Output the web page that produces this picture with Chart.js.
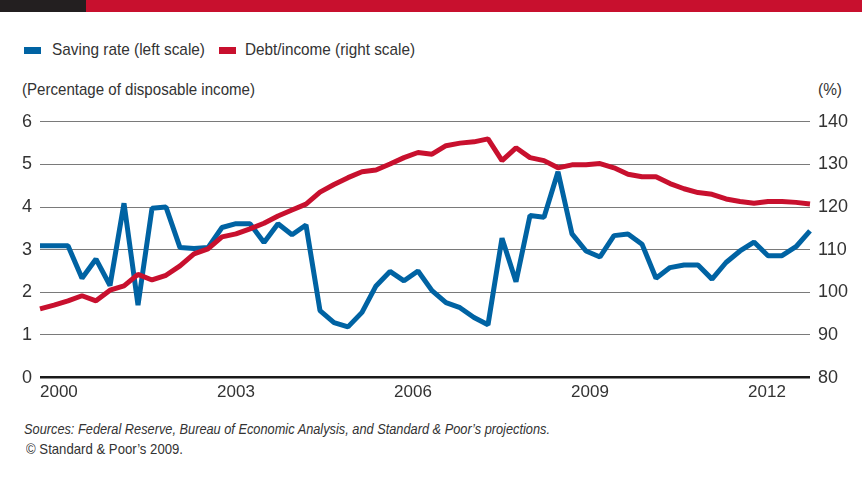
<!DOCTYPE html>
<html>
<head>
<meta charset="utf-8">
<script src="https://cdn.jsdelivr.net/npm/chart.js@4.4.0/dist/chart.umd.min.js"></script>
<style>
  body { margin: 0; background: #fff; }
  #page {
    position: relative; width: 862px; height: 484px; overflow: hidden;
    font-family: "Liberation Sans", Arial, sans-serif;
    color: #333;
  }
  .bar { position: absolute; top: 0; height: 12px; }
  .txt { position: absolute; white-space: nowrap; line-height: 20px; transform-origin: 0 50%; }
  .swatch { position: absolute; width: 17px; height: 7px; }
  #chart-box { position: absolute; left: 0; top: 103px; width: 862px; height: 305px; }
</style>
</head>
<body>
<div id="page">
  <div class="bar" style="left:0;width:86px;background:#231f20"></div>
  <div class="bar" style="left:86px;width:776px;background:#c8102e"></div>

  <div class="swatch" style="left:24px;top:47px;background:#0063a3"></div>
  <div class="txt fit" data-w="153" style="left:52px;top:40px;font-size:17px">Saving rate (left scale)</div>
  <div class="swatch" style="left:219px;top:47px;background:#c8102e"></div>
  <div class="txt fit" data-w="170" style="left:245px;top:40px;font-size:17px">Debt/income (right scale)</div>

  <div class="txt fit" data-w="233" style="left:22px;top:80px;font-size:17px">(Percentage of disposable income)</div>
  <div class="txt fit" data-w="24" style="left:818px;top:80px;font-size:17px">(%)</div>

  <div id="chart-box"><canvas id="chart"></canvas></div>

  <div class="txt fit" data-w="526" style="left:24px;top:419px;font-size:14.5px;font-style:italic">Sources: Federal Reserve, Bureau of Economic Analysis, and Standard &amp; Poor’s projections.</div>
  <div class="txt fit" data-w="157" style="left:26px;top:439px;font-size:14.5px">© Standard &amp; Poor’s 2009.</div>
</div>

<script>
// quarterly periods, 2000 Q1 .. 2013 Q4
const quarters = [
  '2000Q1', '2000Q2', '2000Q3', '2000Q4', '2001Q1', '2001Q2', '2001Q3', '2001Q4',
  '2002Q1', '2002Q2', '2002Q3', '2002Q4', '2003Q1', '2003Q2', '2003Q3', '2003Q4',
  '2004Q1', '2004Q2', '2004Q3', '2004Q4', '2005Q1', '2005Q2', '2005Q3', '2005Q4',
  '2006Q1', '2006Q2', '2006Q3', '2006Q4', '2007Q1', '2007Q2', '2007Q3', '2007Q4',
  '2008Q1', '2008Q2', '2008Q3', '2008Q4', '2009Q1', '2009Q2', '2009Q3', '2009Q4',
  '2010Q1', '2010Q2', '2010Q3', '2010Q4', '2011Q1', '2011Q2', '2011Q3', '2011Q4',
  '2012Q1', '2012Q2', '2012Q3', '2012Q4', '2013Q1', '2013Q2', '2013Q3', '2013Q4'
];

// saving rate, % of disposable income (left scale)
const savingRate = [
  3.09, 3.09, 3.09, 2.33, 2.78, 2.16, 4.09, 1.70,
  3.97, 4.00, 3.05, 3.03, 3.05, 3.52, 3.61, 3.61,
  3.17, 3.61, 3.35, 3.58, 1.57, 1.29, 1.19, 1.53,
  2.15, 2.49, 2.27, 2.50, 2.04, 1.76, 1.64, 1.41,
  1.24, 3.27, 2.25, 3.80, 3.76, 4.83, 3.37, 2.97,
  2.83, 3.33, 3.37, 3.13, 2.33, 2.58, 2.64, 2.64,
  2.31, 2.70, 2.97, 3.18, 2.86, 2.86, 3.07, 3.44
];

// household debt / disposable income, % (right scale)
const debtIncome = [
  96.1, 97.0, 98.0, 99.2, 98.0, 100.5, 101.5, 104.2,
  102.9, 104.0, 106.2, 109.0, 110.2, 113.0, 113.7, 114.9,
  116.2, 117.9, 119.3, 120.7, 123.5, 125.3, 126.9, 128.3,
  128.7, 130.1, 131.6, 132.8, 132.4, 134.4, 135.0, 135.3,
  136.0, 130.9, 133.9, 131.6, 130.9, 129.2, 129.9, 129.9,
  130.2, 129.2, 127.7, 127.1, 127.1, 125.5, 124.3, 123.4,
  123.0, 121.9, 121.3, 120.9, 121.3, 121.3, 121.1, 120.7
];

const yearTicks = [2000, 2003, 2006, 2009, 2012];

const BLUE = '#0063a3';
const RED = '#c8102e';
const TEXT = '#333';
const FONT = '"Liberation Sans", Arial, sans-serif';

// squeeze the html labels to the condensed widths of the original
document.querySelectorAll('.fit').forEach(el => {
  const w = el.getBoundingClientRect().width;
  el.style.transform = 'scaleX(' + (Number(el.dataset.w) / w) + ')';
});

new Chart(document.getElementById('chart'), {
  type: 'line',
  data: {
    labels: quarters,
    datasets: [
      {
        label: 'Saving rate (left scale)',
        data: savingRate,
        yAxisID: 'y',
        borderColor: BLUE,
        borderWidth: 5,
        borderJoinStyle: 'bevel',
        pointRadius: 0,
        tension: 0,
        order: 2
      },
      {
        label: 'Debt/income (right scale)',
        data: debtIncome,
        yAxisID: 'y1',
        borderColor: RED,
        borderWidth: 5,
        borderJoinStyle: 'bevel',
        pointRadius: 0,
        tension: 0,
        order: 1
      }
    ]
  },
  options: {
    responsive: true,
    maintainAspectRatio: false,
    animation: false,
    events: [],
    layout: { padding: { top: 15, left: 0, right: 0, bottom: 0 } },
    plugins: {
      legend: { display: false },
      tooltip: { enabled: false }
    },
    scales: {
      x: {
        type: 'category',
        display: false
      },
      years: {
        type: 'linear',
        position: 'bottom',
        min: 2000,
        max: 2013.05,
        afterBuildTicks: axis => { axis.ticks = yearTicks.map(v => ({ value: v })); },
        grid: { display: false, drawTicks: false },
        border: { display: false },
        ticks: {
          align: 'start',
          padding: 5,
          color: TEXT,
          font: { family: FONT, size: 17 },
          callback: v => String(v)
        }
      },
      y: {
        position: 'left',
        min: 0,
        max: 6,
        afterFit: scale => { scale.width = 40; },
        border: { display: false },
        grid: {
          drawTicks: false,
          color: ctx => ctx.tick.value === 0 ? '#1a1a1a' : '#7a7a7a',
          lineWidth: ctx => ctx.tick.value === 0 ? 2.5 : 1
        },
        ticks: {
          stepSize: 1,
          padding: 8,
          color: TEXT,
          font: { family: FONT, size: 18 }
        }
      },
      y1: {
        position: 'right',
        min: 80,
        max: 140,
        afterFit: scale => { scale.width = 52; },
        border: { display: false },
        grid: { display: false, drawTicks: false },
        ticks: {
          stepSize: 10,
          padding: 8,
          color: TEXT,
          font: { family: FONT, size: 18 }
        }
      }
    }
  }
});
</script>
</body>
</html>
